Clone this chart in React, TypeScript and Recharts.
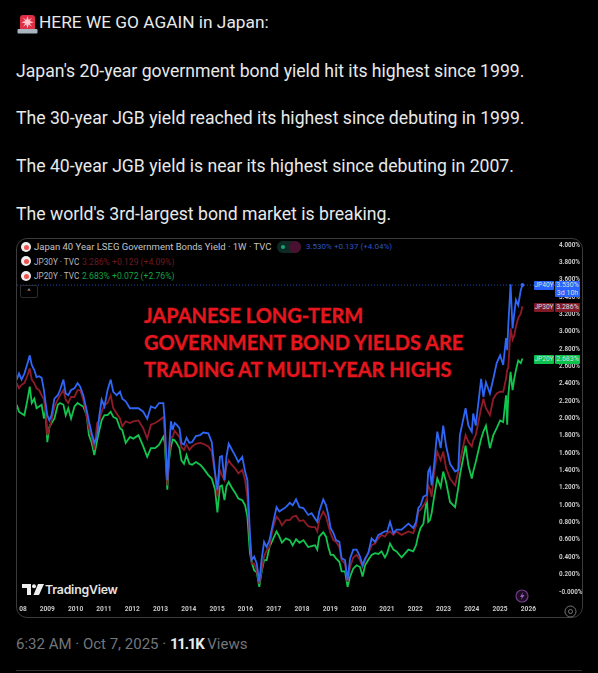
import React from "react";
import { LineChart, Line, XAxis, YAxis, ReferenceLine, ReferenceDot } from "recharts";

const dates = [
  2007.92,2008.00,2008.09,2008.19,2008.30,2008.38,2008.45,2008.54,2008.62,2008.71,2008.80,2008.88,2008.94,2009.00,2009.07,2009.15,2009.25,2009.37,2009.45,2009.57,2009.65,2009.74,2009.84,2009.96,2010.07,2010.16,2010.27,2010.39,2010.47,2010.57,2010.66,2010.76,2010.84,2010.92,2011.02,2011.13,2011.24,2011.33,2011.45,2011.57,2011.65,2011.77,2011.92,2012.04,2012.22,2012.39,2012.53,2012.66,2012.81,2012.95,2013.10,
  2013.15,2013.24,2013.30,2013.37,2013.43,2013.50,2013.57,2013.67,2013.74,2013.83,2013.92,2014.02,2014.12,2014.25,2014.40,2014.51,2014.69,2014.81,2014.93,2015.01,2015.10,2015.17,2015.26,2015.33,2015.41,2015.51,2015.63,2015.75,2015.89,2015.99,2016.07,2016.16,2016.22,2016.31,2016.40,2016.49,2016.57,2016.66,2016.75,2016.85,2016.96,2017.10,2017.20,2017.29,2017.43,2017.57,2017.67,2017.79,2017.91,2018.05,2018.22,
  2018.34,2018.46,2018.54,2018.61,2018.75,2018.85,2018.93,2019.01,2019.11,2019.20,2019.32,2019.40,2019.52,2019.61,2019.70,2019.81,2019.93,2020.05,2020.14,2020.23,2020.34,2020.46,2020.58,2020.70,2020.81,2020.93,2021.01,2021.11,2021.23,2021.34,2021.52,2021.76,2021.93,2022.03,
  2022.11,2022.19,2022.29,2022.41,2022.46,2022.52,2022.58,2022.66,2022.78,2022.90,2022.99,2023.09,2023.23,2023.41,2023.52,2023.58,2023.78,2023.88,2024.00,2024.05,2024.14,2024.33,2024.41,2024.50,2024.64,2024.76,2024.88,2025.00,2025.11,2025.21,2025.25,2025.29,2025.37,2025.44,2025.50,2025.56,2025.64,2025.73,2025.79,
];

const jp40y = [
  2.44,2.51,2.44,2.51,2.63,2.72,2.61,2.55,2.47,2.48,2.46,2.32,2.17,2.03,1.97,2.03,2.22,2.26,2.32,2.44,2.28,2.26,2.32,2.34,2.40,2.36,2.26,2.09,1.96,1.82,1.71,1.78,2.03,2.21,2.13,2.32,2.44,2.30,2.26,2.30,2.22,2.19,2.11,2.11,2.11,2.07,1.99,2.13,2.11,2.17,2.17,
  1.97,1.28,1.63,1.96,1.86,1.94,1.92,1.88,1.71,1.69,1.77,1.71,1.72,1.79,1.80,1.83,1.82,1.72,1.36,1.17,1.55,1.56,1.28,1.55,1.70,1.64,1.57,1.49,1.55,1.38,1.28,0.67,0.36,0.40,0.32,0.11,0.36,0.57,0.51,0.59,0.76,0.97,0.92,0.94,0.97,1.02,0.99,1.06,0.97,0.96,0.88,
  0.90,0.84,0.80,0.92,1.06,0.99,0.88,0.73,0.67,0.59,0.57,0.38,0.36,0.13,0.38,0.48,0.48,0.40,0.30,0.38,0.44,0.61,0.57,0.65,0.67,0.69,0.69,0.80,0.67,0.71,0.71,0.78,0.73,0.80,
  0.96,0.99,1.09,1.11,1.38,1.42,1.22,1.43,1.84,1.65,1.91,1.68,1.47,1.38,1.40,1.80,2.11,1.91,1.84,2.05,1.91,2.45,2.24,2.41,2.28,2.45,2.63,2.72,2.61,2.92,2.78,3.07,3.54,3.03,3.20,3.36,3.30,3.47,3.53,
];

const jp30y = [
  2.40,2.34,2.38,2.40,2.49,2.57,2.44,2.40,2.34,2.32,2.26,2.21,2.07,1.80,1.88,1.97,2.13,2.21,2.26,2.32,2.21,2.17,2.24,2.24,2.32,2.32,2.21,2.01,1.88,1.78,1.63,1.94,1.97,2.07,2.15,2.17,2.26,2.11,2.05,1.99,1.90,1.96,1.94,1.96,1.97,1.88,1.76,1.92,1.94,1.97,2.01,
  1.82,1.22,1.55,1.78,1.78,1.85,1.82,1.78,1.66,1.63,1.69,1.63,1.67,1.70,1.71,1.70,1.67,1.61,1.34,1.09,1.40,1.34,1.28,1.44,1.51,1.46,1.42,1.36,1.40,1.28,1.09,0.59,0.32,0.32,0.24,0.09,0.24,0.40,0.47,0.51,0.72,0.86,0.82,0.76,0.82,0.82,0.86,0.87,0.81,0.82,0.75,
  0.74,0.74,0.69,0.82,0.92,0.86,0.76,0.67,0.59,0.57,0.51,0.36,0.32,0.11,0.28,0.39,0.42,0.36,0.28,0.36,0.44,0.53,0.55,0.61,0.65,0.63,0.67,0.69,0.65,0.69,0.65,0.69,0.67,0.76,
  0.92,0.94,0.99,1.05,1.22,1.18,1.09,1.34,1.61,1.51,1.61,1.42,1.30,1.22,1.38,1.49,1.80,1.72,1.67,1.74,1.80,2.11,2.22,2.11,2.03,2.22,2.28,2.30,2.30,2.45,2.55,2.58,3.03,2.90,2.95,3.05,3.15,3.20,3.286,
];

const jp20y = [
  2.15,2.07,2.05,2.03,2.21,2.36,2.17,2.22,2.11,2.13,2.15,1.99,2.09,1.72,1.89,1.94,1.99,2.15,2.17,2.15,2.03,2.11,1.99,2.13,2.17,2.15,2.13,2.03,1.80,1.71,1.57,1.74,1.86,1.97,2.03,2.03,2.07,2.01,1.99,1.88,1.86,1.71,1.78,1.76,1.80,1.67,1.55,1.65,1.65,1.69,1.78,
  1.71,1.17,1.51,1.67,1.75,1.74,1.71,1.65,1.51,1.47,1.57,1.47,1.46,1.49,1.46,1.42,1.34,1.30,1.17,0.91,1.21,1.22,1.05,1.21,1.26,1.20,1.14,1.07,1.05,0.99,0.86,0.44,0.34,0.24,0.22,0.05,0.22,0.36,0.36,0.51,0.59,0.69,0.63,0.56,0.61,0.59,0.53,0.60,0.56,0.59,0.51,
  0.52,0.53,0.48,0.63,0.68,0.63,0.51,0.42,0.42,0.38,0.34,0.23,0.23,0.05,0.17,0.26,0.30,0.28,0.17,0.30,0.36,0.42,0.44,0.43,0.46,0.39,0.44,0.55,0.48,0.46,0.39,0.48,0.46,0.53,
  0.65,0.73,0.78,1.07,0.80,0.82,0.90,1.07,1.30,1.20,1.38,1.26,1.03,0.97,1.19,1.34,1.68,1.45,1.30,1.38,1.49,1.76,1.84,1.91,1.65,1.80,1.88,1.97,1.95,2.26,1.92,2.26,2.53,2.32,2.45,2.55,2.66,2.63,2.683,
];

const yearTicks = [2008,2009,2010,2011,2012,2013,2014,2015,2016,2017,2018,2019,2020,2021,2022,2023,2024,2025,2026];
const yieldTicks = [0,0.2,0.4,0.6,0.8,1.0,1.2,1.4,1.6,1.8,2.0,2.2,2.4,2.6,2.8,3.0,3.2,3.4,3.6,3.8,4.0];
const tweetLines = [
  "Japan's 20-year government bond yield hit its highest since 1999.",
  "The 30-year JGB yield reached its highest since debuting in 1999.",
  "The 40-year JGB yield is near its highest since debuting in 2007.",
  "The world's 3rd-largest bond market is breaking.",
];
const headline = ["JAPANESE LONG-TERM", "GOVERNMENT BOND YIELDS ARE", "TRADING AT MULTI-YEAR HIGHS"];
const rows = dates.map((date, i) => ({ date, jp40y: jp40y[i], jp30y: jp30y[i], jp20y: jp20y[i] }));

const BLUE = "#2f66f5";
const RED = "#8f1b28";
const GREEN = "#12c54e";
const abs = (left: number, top: number, extra: React.CSSProperties = {}): React.CSSProperties => ({
  position: "absolute", left, top, whiteSpace: "nowrap", ...extra,
});
const TWEET: React.CSSProperties = { fontFamily: "Roboto, sans-serif", fontSize: 17.64, color: "#e7e9ea", lineHeight: "22px" };
const LEG: React.CSSProperties = { fontFamily: "Roboto, sans-serif", fontSize: 8.6, lineHeight: "12px", color: "#b8b8b8" };

const Dot = ({ top }: { top: number }) => (
  <div style={abs(21, top, { width: 10, height: 10, borderRadius: 5, background: "#eee" })}>
    <div style={{ position: "absolute", left: 2.5, top: 2.5, width: 5, height: 5, borderRadius: 3, background: "#ef5350" }} />
  </div>
);

const Badge = ({ top, name, val, color, h = 9 }: { top: number; name: string; val: string; color: string; h?: number }) => (
  <>
    <div style={abs(534, top, { width: 20, height: 9, background: color, color: "#ddd", font: "6.6px/9px Roboto, sans-serif", textAlign: "center", borderRadius: 1 })}>{name}</div>
    <div style={abs(555, top, { width: 25, height: h, background: color, color: "#ddd", font: "7px/9px Roboto, sans-serif", textAlign: "center", borderRadius: 1 })}>
      {val}{h > 9 ? <div style={{ lineHeight: "7px" }}>3d 10h</div> : null}
    </div>
  </>
);

const XTick = (p: any) => (
  <text x={p.x + (p.payload.value === 2008 ? 4 : 0)} y={p.y + 6} textAnchor="middle" fill="#c8c8c8" fontFamily="Roboto, sans-serif" fontWeight={700} fontSize={6.6}>
    {p.payload.value === 2008 ? "08" : p.payload.value}
  </text>
);

export default function App() {
  return (
    <div style={{ position: "absolute", left: 0, top: 0, width: 598, height: 673, background: "#000", overflow: "hidden" }}>
      <svg style={abs(17, 12)} width={21} height={22} viewBox="0 0 21 22">
        <path d="M3 17 V6 a3 3 0 0 1 3-3 h9 a3 3 0 0 1 3 3 V17 Z" fill="#dd2e44" />
        <path d="M10.5 4 l1.2 4 3.3-2.3-2.3 3.3 4 1.2-4 1.2 2.3 3.3-3.3-2.3-1.2 4-1.2-4-3.3 2.3 2.3-3.3-4-1.2 4-1.2L6 5.700l3.300 2.300z" fill="#ffc9cf" />
        <rect x="0.500" y="17" width="20" height="4.500" rx="1" fill="#a7b6c0" />
      </svg>
      <div style={abs(39, 11, { ...TWEET, fontSize: 17.3 })}>HERE WE GO AGAIN in Japan:</div>
      {tweetLines.map((t, i) => (
        <div key={t} style={abs(16, [60, 107, 155, 203][i], TWEET)}>{t}</div>
      ))}

      <div style={abs(16, 238, { width: 565, height: 378, border: "1px solid #3b3b3e", borderRadius: 11, boxSizing: "content-box" })} />

      <div style={{ position: "absolute", left: 0, top: 0, filter: "blur(0.35px)" }}>
        <LineChart width={598} height={673} data={rows} margin={{ top: 238, right: 0, bottom: 0, left: 17 }}>
          <XAxis dataKey="date" type="number" domain={[2007.929, 2026.94]} ticks={yearTicks} allowDataOverflow height={70} axisLine={false} tickLine={false} tickSize={0} tick={XTick} interval={0} />
          <YAxis orientation="right" type="number" domain={[-0.1349, 4.0726]} ticks={yieldTicks} allowDataOverflow width={43} axisLine={false} tickLine={false} tickSize={0} tickMargin={4} interval={0}
            tick={{ fill: "#c8c8c8", fontFamily: "Roboto, sans-serif", fontWeight: 700, fontSize: 6.3, textAnchor: "start" }}
            tickFormatter={(v: number) => (v === 0 ? "-0.000%" : v.toFixed(3) + "%")} />
          <ReferenceLine y={3.53} stroke={BLUE} strokeDasharray="1 2" strokeWidth={1} strokeOpacity={0.7} />
          <Line dataKey="jp20y" stroke={GREEN} strokeWidth={1.8} dot={false} isAnimationActive={false} />
          <Line dataKey="jp30y" stroke={RED} strokeWidth={1.8} dot={false} isAnimationActive={false} />
          <Line dataKey="jp40y" stroke={BLUE} strokeWidth={1.8} dot={false} isAnimationActive={false} />
          <ReferenceDot x={2025.79} y={3.53} r={2} fill={BLUE} stroke="none" />
        </LineChart>
      </div>

      <Dot top={242} />
      <div style={abs(34, 241, { ...LEG, fontSize: 9.5, color: "#c4c4c4" })}>Japan 40 Year LSEG Government Bonds Yield · 1W · TVC</div>
      <div style={abs(277, 241, { width: 24, height: 12, borderRadius: 6, background: "#0d2a24" })}>
        <div style={{ position: "absolute", left: 4, top: 4, width: 4, height: 4, borderRadius: 2, background: "#1aa37a" }} />
        <div style={{ position: "absolute", left: 12, top: 0, width: 12, height: 12, borderRadius: 6, background: "#4a1030" }} />
      </div>
      <div style={abs(306, 241, { ...LEG, fontSize: 8, color: "#2a56c4" })}>3.530% +0.137 (+4.04%)</div>
      <Dot top={256} />
      <div style={abs(34, 256, { ...LEG, fontSize: 8.2 })}>JP30Y · TVC</div>
      <div style={abs(82, 256, { ...LEG, color: "#6b1a22" })}>3.286% +0.129 (+4.09%)</div>
      <Dot top={271} />
      <div style={abs(34, 270, { ...LEG, fontSize: 8.2 })}>JP20Y · TVC</div>
      <div style={abs(82, 270, { ...LEG, color: "#12a344" })}>2.683% +0.072 (+2.76%)</div>
      <div style={abs(20, 285, { width: 16, height: 11, border: "1px solid #2c2c2e", borderRadius: 2, color: "#bbb", font: "8px/12px Roboto, sans-serif", textAlign: "center" })}>^</div>

      {headline.map((t, i) => (
        <div key={t} style={abs(144, 303 + i * 27, { fontFamily: "Lato, sans-serif", fontWeight: 700, fontSize: 20, lineHeight: "24px", color: "#e5161d", WebkitTextStroke: "0.35px #e5161d" })}>{t}</div>
      ))}

      <Badge top={281} name="JP40Y" val="3.530%" color="#2962ff" h={16} />
      <Badge top={303} name="JP30Y" val="3.286%" color="#7f1a24" />
      <Badge top={355} name="JP20Y" val="2.683%" color="#0cc24a" />

      <svg style={abs(22, 584)} width={22} height={12} viewBox="0 0 22 12">
        <path d="M0 0 H9 V11 H5 V4 H0 Z" fill="#eee" />
        <circle cx="12" cy="2.200" r="2" fill="#eee" />
        <path d="M16 0 H22 L17 11 H11.500 Z" fill="#eee" />
      </svg>
      <div style={abs(45, 581, { fontFamily: "Inter, sans-serif", fontWeight: 600, fontSize: 12.3, lineHeight: "18px", color: "#e4e4e4", letterSpacing: -0.2 })}>TradingView</div>
      <svg style={abs(515, 589)} width={14} height={14} viewBox="0 0 14 14">
        <circle cx="7" cy="7" r="6" fill="#1c0d24" stroke="#6d3a86" strokeWidth="1.200" />
        <path d="M8 3 L5 8 H7 L6 11 L9.500 6 H7.300 Z" fill="#9a5fb5" />
      </svg>
      <svg style={abs(564, 605)} width={13} height={13} viewBox="0 0 13 13">
        <circle cx="6.500" cy="6.500" r="5.500" fill="none" stroke="#777" strokeWidth="1" />
        <circle cx="6.500" cy="6.500" r="2" fill="none" stroke="#777" strokeWidth="1" />
      </svg>

      <div style={abs(16, 634, { fontFamily: "Roboto, sans-serif", fontSize: 15, lineHeight: "20px", color: "#71767b" })}>
        6:32 AM · Oct 7, 2025 · <span style={{ color: "#e7e9ea", fontWeight: 700, letterSpacing: -1.2 }}>11.1K</span> Views
      </div>
      <div style={abs(16, 670, { width: 566, height: 1, background: "#2f3336" })} />
    </div>
  );
}
